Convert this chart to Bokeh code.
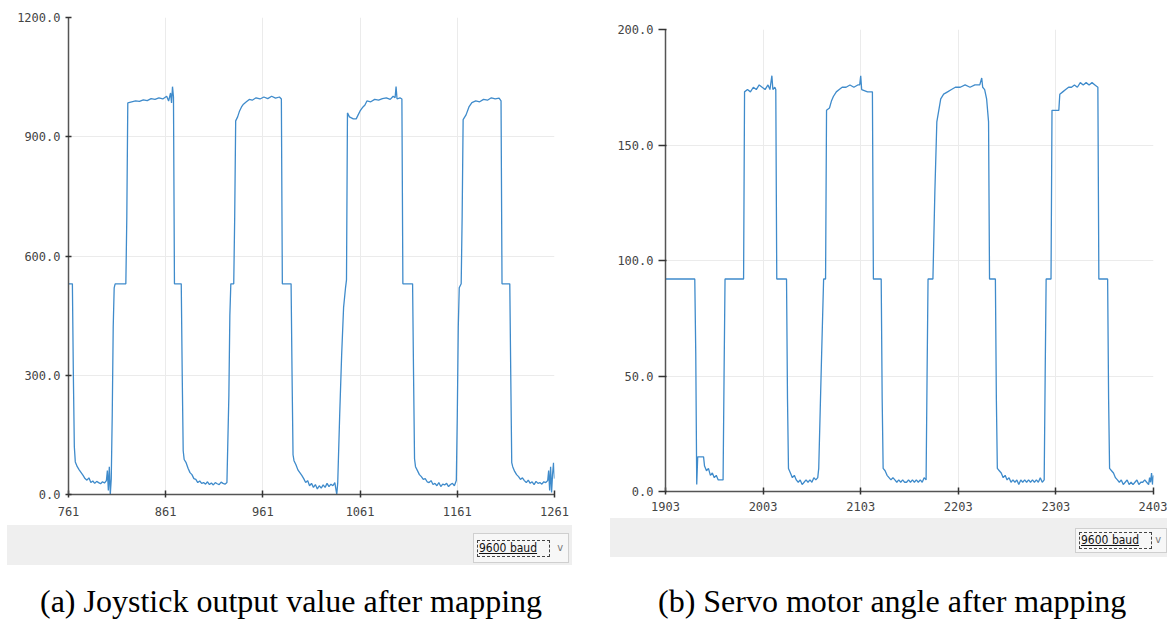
from bokeh.plotting import figure
from bokeh.layouts import row, column
from bokeh.models import Range1d, FixedTicker, Div, Spacer
from bokeh.embed import file_html
from bokeh.resources import INLINE

# ---------------- data ----------------
joy_x_ticks = [761, 861, 961, 1061, 1161, 1261]
joy_y_ticks = [0, 300, 600, 900, 1200]
servo_x_ticks = [1903, 2003, 2103, 2203, 2303, 2403]
servo_y_ticks = [0, 50, 100, 150, 200]

joy_x = [761, 765, 766, 767, 768, 770, 772, 774, 776, 778, 780, 782, 784, 786, 788, 790, 792, 794, 796, 798,
         800, 801, 802, 803, 804, 805, 806, 807, 808, 809, 820, 821, 822, 826, 830, 834, 838, 842, 846, 850,
         854, 858, 862, 864, 866, 867, 868, 869, 870, 877, 878, 879, 880, 882, 884, 886, 888, 890, 892, 894,
         896, 898, 900, 902, 904, 906, 908, 910, 912, 914, 916, 918, 920, 922, 924, 926, 927, 928, 931, 932,
         933, 935, 937, 939, 941, 944, 947, 950, 954, 958, 962, 966, 970, 974, 978, 980, 981, 990, 991, 992,
         993, 995, 997, 999, 1001, 1003, 1005, 1007, 1009, 1011, 1013, 1015, 1017, 1019, 1021, 1023, 1025, 1027, 1029, 1031,
         1033, 1035, 1036, 1037, 1038, 1040, 1042, 1044, 1046, 1047, 1048, 1050, 1054, 1057, 1059, 1061, 1064, 1066, 1068, 1072,
         1076, 1080, 1084, 1088, 1092, 1095, 1097, 1098, 1099, 1102, 1104, 1105, 1115, 1116, 1117, 1118, 1120, 1122, 1124, 1126,
         1128, 1130, 1132, 1134, 1136, 1138, 1140, 1142, 1144, 1146, 1148, 1150, 1152, 1154, 1156, 1158, 1160, 1161, 1162, 1163,
         1165, 1166, 1167, 1170, 1173, 1176, 1180, 1184, 1188, 1192, 1196, 1200, 1204, 1206, 1207, 1215, 1216, 1217, 1218, 1220,
         1222, 1224, 1226, 1228, 1230, 1232, 1234, 1236, 1238, 1240, 1242, 1244, 1246, 1248, 1250, 1252, 1254, 1255, 1256, 1257,
         1258, 1259, 1260, 1261]
joy_y = [530, 530, 300, 120, 82, 70, 62, 55, 48, 40, 36, 42, 30, 34, 28, 33, 30, 27, 32, 29,
         35, 60, 10, 70, 0, 40, 200, 420, 520, 530, 530, 700, 985, 988, 990, 989, 993, 991, 996, 994,
         998, 995, 1002, 990, 1010, 985, 1026, 1000, 530, 530, 300, 110, 88, 80, 66, 55, 50, 40, 38, 30,
         34, 28, 30, 26, 32, 25, 29, 24, 30, 27, 25, 31, 28, 26, 30, 250, 450, 530, 530, 700,
         940, 950, 965, 975, 982, 988, 994, 992, 998, 995, 1000, 996, 1002, 997, 1000, 995, 530, 530, 300, 100,
         85, 75, 62, 55, 48, 40, 30, 35, 22, 28, 18, 25, 14, 22, 16, 24, 18, 28, 20, 26,
         22, 30, 15, 0, 30, 200, 350, 470, 520, 540, 960, 950, 945, 945, 955, 965, 975, 980, 990, 988,
         994, 992, 996, 998, 994, 1002, 998, 1026, 995, 998, 995, 530, 530, 300, 90, 70, 60, 50, 45, 38,
         40, 32, 30, 35, 25, 28, 22, 30, 20, 26, 24, 28, 20, 25, 28, 22, 35, 200, 420, 520,
         530, 700, 943, 955, 975, 986, 990, 988, 994, 992, 998, 995, 997, 990, 530, 530, 300, 80, 70, 58,
         50, 45, 38, 42, 35, 30, 36, 28, 32, 25, 33, 28, 30, 26, 32, 30, 35, 60, 10, 70,
         5, 50, 80, 40]

servo_x = [1903, 1933, 1934, 1935, 1936, 1942, 1943, 1945, 1947, 1949, 1951, 1953, 1955, 1957, 1960, 1962, 1963, 1964, 1983, 1984,
           1987, 1990, 1993, 1996, 1999, 2002, 2005, 2008, 2010, 2012, 2013, 2015, 2016, 2017, 2027, 2028, 2029, 2031, 2033, 2035,
           2037, 2039, 2041, 2043, 2045, 2047, 2049, 2051, 2053, 2055, 2057, 2059, 2060, 2063, 2065, 2067, 2068, 2071, 2073, 2075,
           2078, 2081, 2084, 2088, 2092, 2096, 2100, 2102, 2103, 2104, 2110, 2115, 2116, 2124, 2125, 2126, 2128, 2130, 2132, 2134,
           2136, 2138, 2140, 2142, 2144, 2146, 2148, 2150, 2152, 2154, 2156, 2158, 2160, 2162, 2164, 2166, 2168, 2170, 2171, 2172,
           2177, 2179, 2181, 2183, 2185, 2188, 2192, 2196, 2200, 2205, 2210, 2215, 2220, 2225, 2227, 2228, 2230, 2232, 2234, 2235,
           2241, 2242, 2243, 2245, 2247, 2249, 2251, 2253, 2255, 2257, 2259, 2261, 2263, 2265, 2267, 2269, 2271, 2273, 2275, 2277,
           2279, 2281, 2283, 2285, 2287, 2289, 2291, 2292, 2293, 2298, 2299, 2306, 2307, 2310, 2313, 2316, 2319, 2322, 2325, 2328,
           2331, 2334, 2337, 2340, 2343, 2346, 2347, 2356, 2357, 2358, 2360, 2362, 2364, 2366, 2368, 2370, 2372, 2374, 2376, 2378,
           2380, 2382, 2384, 2386, 2388, 2390, 2392, 2394, 2396, 2398, 2399, 2400, 2401, 2402, 2403]
servo_y = [92, 92, 60, 3, 15, 15, 11, 9, 10, 7, 8, 6, 7, 5, 5, 5, 50, 92, 92, 173,
           174, 173, 175, 174, 176, 175, 174, 176, 174, 180, 174, 175, 174, 92, 92, 40, 10, 8, 6, 7,
           5, 4, 5, 3, 4, 5, 4, 5, 4, 6, 5, 6, 10, 60, 92, 92, 165, 166, 169, 171,
           173, 174, 175, 175, 176, 175, 176, 176, 180, 174, 173, 173, 92, 92, 40, 10, 9, 7, 6, 5,
           6, 5, 4, 5, 4, 5, 4, 4, 5, 4, 5, 4, 5, 4, 5, 4, 6, 5, 50, 92,
           92, 130, 160, 165, 170, 172, 173, 174, 175, 175, 176, 175, 176, 176, 179, 175, 174, 170, 160, 92,
           92, 40, 10, 9, 8, 6, 7, 5, 6, 4, 5, 4, 5, 3, 5, 4, 5, 4, 5, 4,
           5, 4, 5, 4, 6, 4, 5, 50, 92, 92, 165, 165, 172, 173, 174, 175, 175, 176, 175, 177,
           176, 177, 176, 177, 176, 175, 92, 92, 40, 10, 9, 8, 6, 5, 4, 5, 3, 4, 5, 3,
           4, 3, 4, 5, 3, 4, 4, 5, 4, 3, 6, 4, 8, 3, 7]

captions = ["(a) Joystick output value after mapping", "(b) Servo motor angle after mapping"]
baud_text = "9600 baud"

LINE = "#3f8bcb"


def make_fig(xs, ys, xticks, yticks, fw, fh, left, right, top, bottom, tick_out, tick_in, x_standoff):
    p = figure(frame_width=fw, frame_height=fh,
               min_border_left=left, min_border_right=right,
               min_border_top=top, min_border_bottom=bottom,
               x_range=Range1d(xticks[0], xticks[-1]), y_range=Range1d(yticks[0], yticks[-1]),
               output_backend="svg", toolbar_location=None, tools="")
    p.line(xs, ys, line_color=LINE, line_width=1.3)
    p.outline_line_color = None
    p.background_fill_color = "white"
    p.border_fill_color = "white"

    p.xaxis.ticker = FixedTicker(ticks=xticks)
    p.yaxis.ticker = FixedTicker(ticks=yticks)
    p.xaxis.major_label_overrides = {t: str(t) for t in xticks}
    p.yaxis.major_label_overrides = {t: f"{t:.1f}" for t in yticks}
    for ax in (p.xaxis, p.yaxis):
        ax.axis_line_color = "#555555"
        ax.axis_line_width = 1.5
        ax.major_tick_line_color = "#333333"
        ax.major_tick_line_width = 1.5
        ax.minor_tick_line_color = None
        ax.major_label_text_font = "DejaVu Sans Mono"
        ax.major_label_text_font_size = "12px"
        ax.major_label_text_color = "#444444"
    p.xaxis.major_tick_in = 4
    p.xaxis.major_tick_out = 3
    p.xaxis.major_label_standoff = x_standoff
    p.yaxis.major_tick_in = tick_in
    p.yaxis.major_tick_out = tick_out
    p.yaxis.major_label_standoff = 5
    p.grid.grid_line_color = "#ebebeb"
    p.grid.grid_line_width = 1
    return p


def baud_bar(width, height, bar_left, bar_w, box_left, box_top, box_w, box_h):
    html = (
        f'<div style="position:relative;width:{width}px;height:{height}px;">'
        f'<div style="position:absolute;left:{bar_left}px;top:0;width:{bar_w}px;height:{height}px;background:#efefef;"></div>'
        f'<div style="position:absolute;left:{box_left}px;top:{box_top}px;width:{box_w}px;height:{box_h}px;'
        f'background:#f7f7f7;border:1px solid #cfcfcf;box-sizing:border-box;'
        f'font-family:\'DejaVu Sans Condensed\',\'DejaVu Sans\';font-size:12px;color:#111;">'
        f'<span style="position:absolute;left:3px;top:{(box_h - 18) // 2}px;border:1px dashed #444;'
        f'padding:0 12px 0 1px;line-height:15px;text-decoration:underline;">{baud_text}</span>'
        f'<span style="position:absolute;right:5px;top:{(box_h - 18) // 2}px;color:#777;font-size:11px;">v</span>'
        f'</div></div>'
    )
    return Div(text=html, width=width, height=height, margin=0)


def caption(text, width, height, pad_top, pad_left):
    html = (
        f'<div style="width:{width}px;height:{height}px;overflow:hidden;">'
        f'<div style="padding-top:{pad_top}px;padding-left:{pad_left}px;white-space:nowrap;'
        f'font-family:\'Liberation Serif\';font-size:32px;line-height:32px;color:#000;">{text}</div></div>'
    )
    return Div(text=html, width=width, height=height, margin=0)


# left panel: figure x 0..575, frame 68..554, y frame 17..494
p1 = make_fig(joy_x, joy_y, joy_x_ticks, joy_y_ticks, fw=486, fh=477,
              left=68, right=21, top=17, bottom=31, tick_out=3, tick_in=3, x_standoff=9)
# right panel: figure x 610..1167, frame 665..1153, y frame 29..491
p2 = make_fig(servo_x, servo_y, servo_x_ticks, servo_y_ticks, fw=488, fh=462,
              left=55, right=14, top=29, bottom=27, tick_out=7, tick_in=1, x_standoff=7)

col1 = column(p1, baud_bar(575, 40, 7, 565, 473, 8, 96, 30),
              caption(captions[0], 575, 55, 20, 40), spacing=0)
col2 = column(p2, baud_bar(557, 39, 0, 557, 465, 10, 92, 25),
              caption(captions[1], 557, 63, 28, 48), spacing=0)
layout = row(col1, Spacer(width=35, height=10), col2, spacing=0)

open("out.html", "w").write(file_html(layout, INLINE))
